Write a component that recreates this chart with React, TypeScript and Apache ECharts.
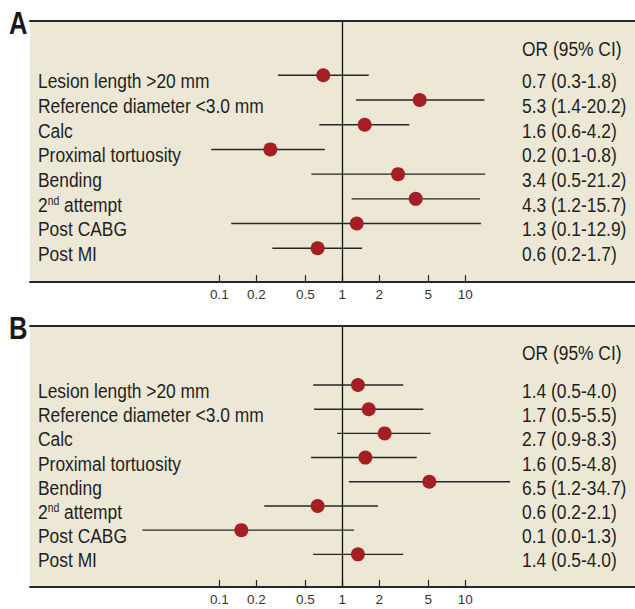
import React, { useEffect, useRef } from "react";
import * as echarts from "echarts";

const ROW_LABELS = [
  "Lesion length >20 mm",
  "Reference diameter <3.0 mm",
  "Calc",
  "Proximal tortuosity",
  "Bending",
  "2nd attempt",
  "Post CABG",
  "Post MI",
];

const TICK_VALUES = [0.1, 0.2, 0.5, 1, 2, 5, 10];
const TICK_LABELS = ["0.1", "0.2", "0.5", "1", "2", "5", "10"];

const HEADER = "OR (95% CI)";
const PANEL_NAMES = ["A", "B"];

const A_OR = [0.7, 4.26, 1.52, 0.26, 2.84, 3.95, 1.31, 0.63];
const A_LO = [0.3, 1.29, 0.65, 0.086, 0.56, 1.19, 0.125, 0.27];
const A_HI = [1.64, 14.3, 3.5, 0.72, 14.5, 13.2, 13.4, 1.45];
const A_TEXT = [
  "0.7 (0.3-1.8)",
  "5.3 (1.4-20.2)",
  "1.6 (0.6-4.2)",
  "0.2 (0.1-0.8)",
  "3.4 (0.5-21.2)",
  "4.3 (1.2-15.7)",
  "1.3 (0.1-12.9)",
  "0.6 (0.2-1.7)",
];

// Panel B
const B_OR = [1.34, 1.64, 2.21, 1.54, 5.1, 0.63, 0.151, 1.34];
const B_LO = [0.58, 0.59, 0.91, 0.556, 1.13, 0.232, 0.0237, 0.58];
const B_HI = [3.13, 4.56, 5.23, 4.03, 23.1, 1.95, 1.245, 3.13];
const B_TEXT = [
  "1.4 (0.5-4.0)",
  "1.7 (0.5-5.5)",
  "2.7 (0.9-8.3)",
  "1.6 (0.5-4.8)",
  "6.5 (1.2-34.7)",
  "0.6 (0.2-2.1)",
  "0.1 (0.0-1.3)",
  "1.4 (0.5-4.0)",
];

const FONT = "'Liberation Sans', Arial, sans-serif";
const BEIGE = "#ECE8D5";
const INK = "#262626";
const RED = "#A51E24";
const SQUEEZE = 0.87;

export default function App() {
  const ref = useRef<HTMLDivElement>(null);

  useEffect(() => {
    const chart = echarts.init(ref.current!, null, { renderer: "svg" });
    const lg = (v: number) => Math.log10(v);
    const X_MIN = (30 - 342.3) / 123;
    const X_MAX = (635 - 342.3) / 123;
    const tickPos = TICK_VALUES.map(lg);
    const rowIdx = ROW_LABELS.map((_, i) => i);
    const H = 261;

    const panels = [
      { top: 21, y0: 75.3, step: 24.71, or: A_OR, lo: A_LO, hi: A_HI, text: A_TEXT, header: 49, letter: 22.5 },
      { top: 326, y0: 385, step: 24.19, or: B_OR, lo: B_LO, hi: B_HI, text: B_TEXT, header: 353, letter: 327.5 },
    ];

    const grid: any[] = [];
    const xAxis: any[] = [];
    const yAxis: any[] = [];
    const series: any[] = [];
    const graphic: any[] = [];

    const textStyle = (text: string) => ({
      text,
      fontFamily: FONT,
      fontSize: 20,
      fill: "#1f1f1f",
      align: "left",
      verticalAlign: "middle",
      rich: {
        sup: { fontFamily: FONT, fontSize: 12, fill: "#1f1f1f", verticalAlign: "top" },
      },
    });

    panels.forEach((p, k) => {
      grid.push({
        left: 30,
        right: 0,
        top: p.top,
        height: H,
        show: true,
        backgroundColor: BEIGE,
        borderWidth: 0,
        containLabel: false,
        outerBoundsMode: "none",
      });
      const yMin = (p.top - p.y0) / p.step;
      const yMax = (p.top + H - p.y0) / p.step;
      // bottom axis
      xAxis.push({
        type: "value",
        gridIndex: k,
        position: "bottom",
        min: X_MIN,
        max: X_MAX,
        splitLine: { show: false },
        axisLine: { show: true, onZero: false, lineStyle: { color: INK, width: 2 } },
        axisTick: {
          show: true,
          inside: true,
          length: 7,
          customValues: tickPos,
          lineStyle: { color: INK, width: 1.2 },
        },
        axisLabel: {
          show: true,
          customValues: tickPos,
          margin: 5,
          fontFamily: FONT,
          fontSize: 13.5,
          color: "#333",
          formatter: (v: number) => {
            const i = tickPos.findIndex((t) => Math.abs(t - v) < 1e-6);
            return i >= 0 ? TICK_LABELS[i] : "";
          },
        },
      });
      // top rule
      xAxis.push({
        type: "value",
        gridIndex: k,
        position: "top",
        min: X_MIN,
        max: X_MAX,
        splitLine: { show: false },
        axisLine: { show: true, onZero: false, lineStyle: { color: INK, width: 2 } },
        axisTick: { show: false },
        axisLabel: { show: false },
      });
      yAxis.push({
        type: "value",
        gridIndex: k,
        inverse: true,
        min: yMin,
        max: yMax,
        splitLine: { show: false },
        axisLine: { show: false },
        axisTick: { show: false },
        axisLabel: { show: false },
      });

      // confidence intervals
      series.push({
        type: "custom",
        xAxisIndex: k * 2,
        yAxisIndex: k,
        silent: true,
        z: 2,
        encode: { x: [0, 1], y: 2 },
        data: rowIdx.map((i) => [lg(p.lo[i]), lg(p.hi[i]), i]),
        renderItem: (params: any, api: any) => {
          const a = api.coord([api.value(0), api.value(2)]);
          const b = api.coord([api.value(1), api.value(2)]);
          return {
            type: "line",
            shape: { x1: a[0], y1: a[1], x2: b[0], y2: b[1] },
            style: { stroke: INK, lineWidth: 1.4 },
          };
        },
      });
      // point estimates + reference line at OR = 1
      series.push({
        type: "scatter",
        xAxisIndex: k * 2,
        yAxisIndex: k,
        silent: true,
        z: 4,
        symbol: "circle",
        symbolSize: 14,
        itemStyle: { color: RED, opacity: 1 },
        data: rowIdx.map((i) => [lg(p.or[i]), i]),
        markLine: {
          silent: true,
          symbol: "none",
          label: { show: false },
          lineStyle: { color: "#111", width: 1.3, type: "solid" },
          data: [{ xAxis: 0 }],
        },
      });
      // row labels (left) and OR text (right)
      series.push({
        type: "custom",
        xAxisIndex: k * 2,
        yAxisIndex: k,
        silent: true,
        z: 5,
        encode: { x: 0, y: 1 },
        data: rowIdx.map((i) => [lg(p.or[i]), i]),
        renderItem: (params: any, api: any) => {
          const y = api.coord([api.value(0), api.value(1)])[1] + 6;
          const i = params.dataIndex;
          return {
            type: "group",
            children: [
              {
                type: "text",
                x: 38,
                y,
                scaleX: SQUEEZE,
                style: textStyle(ROW_LABELS[i].replace(/^2nd/, "2{sup|nd}")),
              },
              {
                type: "text",
                x: 522,
                y,
                scaleX: SQUEEZE,
                style: textStyle(p.text[i]),
              },
            ],
          };
        },
      });

      graphic.push({
        type: "text",
        x: 522,
        y: p.header,
        scaleX: SQUEEZE,
        style: {
          text: HEADER,
          fontFamily: FONT,
          fontSize: 20,
          fill: "#1f1f1f",
          verticalAlign: "middle",
        },
      });
      graphic.push({
        type: "text",
        x: 9,
        y: p.letter,
        scaleX: 0.8,
        style: {
          text: PANEL_NAMES[k],
          fontFamily: FONT,
          fontWeight: "bold",
          fontSize: 32,
          fill: "#1a1a1a",
          verticalAlign: "middle",
        },
      });
    });

    chart.setOption({
      animation: false,
      backgroundColor: "#ffffff",
      grid,
      xAxis,
      yAxis,
      series,
      graphic,
    });

    return () => chart.dispose();
  }, []);

  return (
    <div
      ref={ref}
      style={{ position: "fixed", left: 0, top: 0, width: 635, height: 609 }}
    />
  );
}
